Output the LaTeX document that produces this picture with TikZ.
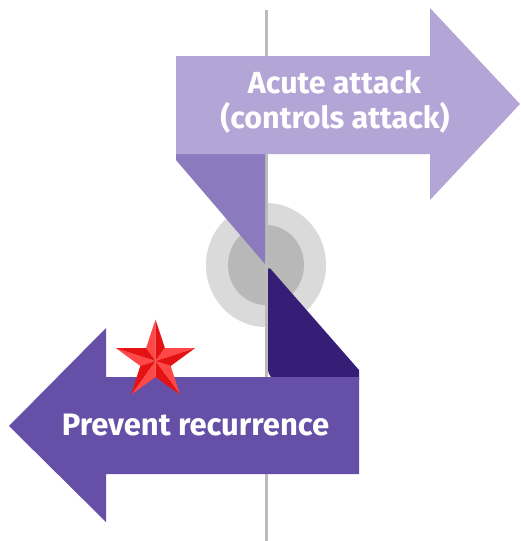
\documentclass[tikz,border=0pt]{standalone}
\usepackage{fontspec}
\setmainfont{Fira Sans}
\definecolor{toparrow}{HTML}{B3A5D5}
\definecolor{lightfold}{HTML}{8C7ABF}
\definecolor{darkfold}{HTML}{361D76}
\definecolor{botarrow}{HTML}{6650A7}
\definecolor{ringout}{HTML}{DADADA}
\definecolor{ringin}{HTML}{B8B8B8}
\definecolor{axis}{HTML}{BBBBBB}
\definecolor{starlight}{HTML}{FF4848}
\definecolor{stardark}{HTML}{E41212}
\tikzset{
  label/.style={text=white,inner sep=0pt,anchor=base},
}
\begin{document}
\begin{tikzpicture}[x=1pt,y=-1pt]
\useasboundingbox (0,0) rectangle (520,541);
% ring
\fill[ringout] (266,265) ellipse [x radius=60,y radius=62];
\fill[ringin] (266,265) ellipse [x radius=38,y radius=40];
% axis
\draw[axis,line width=3pt] (266.5,10) -- (266.5,541);
% folds
\fill[lightfold] (176,150) -- (265,150) -- (265,264) -- (176,160) -- cycle;
\fill[darkfold] (268,266) -- (359,370) -- (359,380) -- (274,380) [rounded corners=4pt]-- (268,374) -- cycle;
% top arrow
\fill[toparrow] (176,56) -- (430,56) -- (430,8) -- (520,104) -- (430,200) -- (430,154) -- (176,154) -- cycle;
% bottom arrow
\fill[botarrow] (359,377) -- (106,377) -- (106,328) -- (9,426) -- (106,522) -- (106,474) -- (359,474) -- cycle;
% texts
\node[label,font=\bfseries\fontsize{30.5}{35}\selectfont] (acute1) at (334.5,93) {Acute attack};
\node[label,font=\bfseries\fontsize{30.5}{35}\selectfont] (acute2) at (335,128) {(controls attack)};
\node[label,font=\bfseries\fontsize{31}{36}\selectfont] (prevent) at (195.5,435) {Prevent recurrence};
% star
\foreach \k in {0,...,4}{
  \pgfmathsetmacro{\ao}{90+72*\k}
  \fill[starlight] (155.5,361) -- ({155.5+41.5*cos(\ao)},{361-41.5*sin(\ao)}) -- ({155.5+16*cos(\ao+36)},{361-16*sin(\ao+36)}) -- cycle;
  \fill[stardark] (155.5,361) -- ({155.5+41.5*cos(\ao)},{361-41.5*sin(\ao)}) -- ({155.5+16*cos(\ao-36)},{361-16*sin(\ao-36)}) -- cycle;
}
\end{tikzpicture}
\end{document}
